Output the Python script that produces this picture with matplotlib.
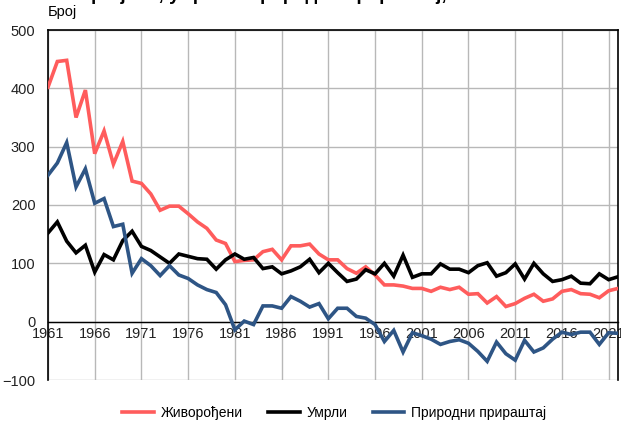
import matplotlib.pyplot as plt
import matplotlib.ticker as mticker

# Вредности очитане са графикона
godine = list(range(1961, 2023))
zivorodjeni = [402, 446, 448, 350, 397, 288, 327, 270, 309, 241,
               237, 219, 191, 198, 198, 185, 171, 160, 140, 134,
               103, 105, 106, 120, 124, 106, 130, 130, 133, 116,
               106, 106, 91, 83, 94, 80, 63, 63, 61, 57,
               57, 52, 59, 55, 59, 47, 48, 32, 43, 26,
               31, 40, 47, 35, 39, 52, 55, 48, 47, 41,
               53, 57]
umrli = [152, 171, 138, 118, 131, 85, 115, 106, 139, 155,
         129, 122, 111, 100, 116, 112, 108, 107, 90, 106,
         116, 107, 110, 91, 94, 82, 87, 94, 107, 84,
         100, 84, 69, 73, 89, 82, 100, 78, 114, 76,
         82, 82, 99, 90, 90, 84, 96, 101, 78, 84,
         99, 73, 100, 82, 69, 72, 78, 66, 65, 82,
         72, 77]
prirastaj = [251, 272, 307, 231, 262, 203, 211, 163, 167, 83,
             108, 96, 79, 96, 80, 74, 63, 55, 50, 29,
             -14, 1, -5, 27, 27, 23, 43, 35, 25, 31,
             5, 23, 23, 9, 6, -5, -34, -15, -52, -19,
             -24, -30, -39, -34, -31, -37, -51, -68, -35, -55,
             -66, -32, -52, -45, -30, -18, -22, -18, -18, -39,
             -19, -20]
xtick_godine = list(range(1961, 2022, 5))
naziv_serija = ['Живорођени', 'Умрли', 'Природни прираштај']
boje = ['#ff5c5c', '#000000', '#2e5585']

plt.rcParams['font.family'] = ['Liberation Sans', 'DejaVu Sans']

fig = plt.figure(figsize=(6.21, 4.21), dpi=100)
ax = fig.add_axes([48 / 621, 1 - 380 / 421, 570 / 621, 350 / 421])

for vals, ime, boja in zip([zivorodjeni, umrli, prirastaj], naziv_serija, boje):
    ax.plot(godine, vals, color=boja, linewidth=2.6, label=ime,
            solid_joinstyle='miter', zorder=3)

ax.set_xlim(1961, 2022)
ax.set_ylim(-100, 500)
ax.set_xticks(xtick_godine)
ax.yaxis.set_major_locator(mticker.MultipleLocator(100))
ax.grid(True, color='#b8b8b8', linewidth=1)
ax.set_axisbelow(True)

ax.spines['bottom'].set_position(('data', 0))
ax.spines['bottom'].set_linewidth(1)
for s in ['left', 'top', 'right']:
    ax.spines[s].set_color('black')
    ax.spines[s].set_linewidth(1.2)
ax.tick_params(axis='both', length=0, labelsize=10.5, colors='#222222')
ax.tick_params(axis='y', pad=9)
ax.tick_params(axis='x', pad=4)

fig.text(48 / 621, 1 - 12 / 421, 'Број', fontsize=10.5, ha='left', va='center')
fig.text(40 / 621, 1 + 5 / 421, 'Живорођени, умрли и природни прираштај, 1961-2022',
         fontsize=13.5, fontweight='bold', ha='left', va='center')

fig.legend(loc='center', bbox_to_anchor=(0.538, 1 - 413 / 421), ncol=3,
           frameon=False, fontsize=10, handlelength=2.3, columnspacing=1.8,
           handletextpad=0.5)

plt.savefig('out.png', dpi=100)
plt.close()
